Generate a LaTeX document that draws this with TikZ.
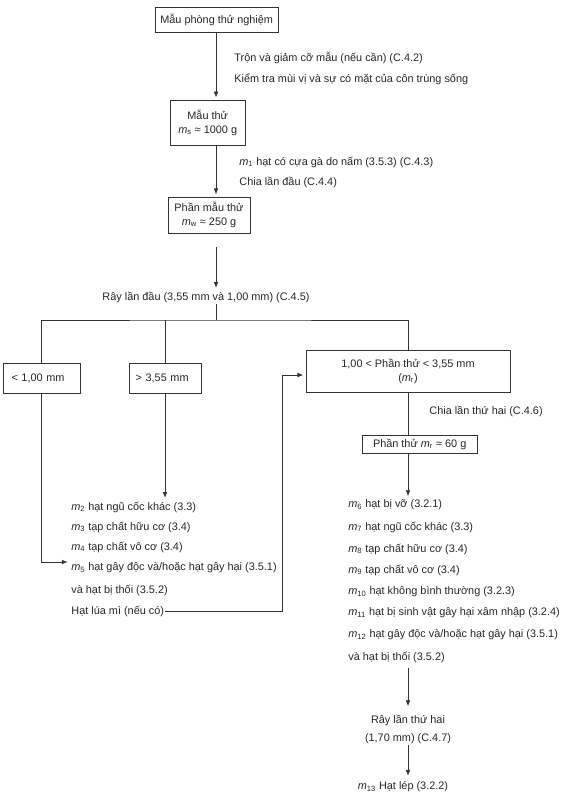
\documentclass[tikz,border=0pt]{standalone}
\usepackage{fontspec}
\setmainfont{Liberation Sans}
\usetikzlibrary{calc,arrows.meta}
\newcommand{\msub}[1]{\textit{m}\textsubscript{#1}}

\begin{document}
\begin{tikzpicture}[
  box/.style={draw=black!80, line width=0.6pt, align=center, inner sep=1pt, text=black!85, font=\fontsize{9.3}{12}\selectfont},
  txt/.style={anchor=west, inner sep=1pt, text=black!85, font=\fontsize{9.3}{11}\selectfont},
  arrow/.style={-{Latex[length=5pt,width=4pt]}, draw=black!80, line width=0.6pt, shorten >=2pt},
  line/.style={draw=black!80, line width=0.6pt}
]
\useasboundingbox (0,0) rectangle (17.1,-24.12);
\coordinate (axis) at (6.48,0);
\coordinate (raxis) at (12.24,0);

% top column
\node[box, minimum width=3.69cm, minimum height=0.75cm] (lab) at (6.50,-0.59) {Mẫu phòng thử nghiệm};
\node[txt] (mix) at (6.99,-1.74) {Trộn và giảm cỡ mẫu (nếu cần) (C.4.2)};
\node[txt] (odour) at (6.99,-2.37) {Kiểm tra mùi vị và sự có mặt của côn trùng sống};
\node[box, minimum width=2.25cm, minimum height=1.35cm] (sample) at (6.23,-3.68) {Mẫu thử\\\msub{s} ≈ 1000 g};
\node[txt] (ergot) at (7.14,-4.86) {\msub{1} hạt có cựa gà do nấm (3.5.3) (C.4.3)};
\node[txt] (div1) at (7.14,-5.46) {Chia lần đầu (C.4.4)};
\node[box, minimum width=2.46cm, minimum height=1.08cm] (portion) at (6.27,-6.45) {Phần mẫu thử\\\msub{w} ≈ 250 g};
\coordinate (gap) at (6.48,-7.41);
\node[txt, anchor=center] (sieve) at (6.18,-8.91) {Rây lần đầu (3,55 mm và 1,00 mm) (C.4.5)};
\coordinate (split) at (6.48,-9.60);

% fractions
\node[box, minimum width=2.31cm, minimum height=0.9cm, inner xsep=0.25cm, text width=1.81cm, align=left] (fine) at (1.25,-11.34) {< 1,00 mm};
\node[box, minimum width=2.16cm, minimum height=0.9cm, inner xsep=0.2cm, text width=1.76cm, align=left] (coarse) at (4.95,-11.34) {> 3,55 mm};
\node[box, minimum width=6.12cm, minimum height=1.26cm] (mid) at (12.24,-11.13) {1,00 < Phần thử < 3,55 mm\\(\msub{r})};
\node[txt] (div2) at (12.84,-12.33) {Chia lần thứ hai (C.4.6)};
\node[box, minimum width=3.45cm, minimum height=0.54cm] (part) at (12.59,-13.32) {Phần thử \msub{r} ≈ 60 g};

% left list
\node[txt] (l2) at (2.10,-15.21) {\msub{2} hạt ngũ cốc khác (3.3)};
\node[txt] (l3) at (2.10,-15.81) {\msub{3} tạp chất hữu cơ (3.4)};
\node[txt] (l4) at (2.10,-16.41) {\msub{4} tạp chất vô cơ (3.4)};
\node[txt] (l5) at (2.10,-17.04) {\msub{5} hạt gây độc và/hoặc hạt gây hại (3.5.1)};
\node[txt] (l5b) at (2.10,-17.70) {và hạt bị thối (3.5.2)};
\node[txt] (lmi) at (2.10,-18.33) {Hạt lúa mì (nếu có)};

% right list
\node[txt] (r6) at (10.41,-15.15) {\msub{6} hạt bị vỡ (3.2.1)};
\node[txt] (r7) at (10.41,-15.81) {\msub{7} hạt ngũ cốc khác (3.3)};
\node[txt] (r8) at (10.41,-16.47) {\msub{8} tạp chất hữu cơ (3.4)};
\node[txt] (r9) at (10.41,-17.10) {\msub{9} tạp chất vô cơ (3.4)};
\node[txt] (r10) at (10.41,-17.76) {\msub{10} hạt không bình thường (3.2.3)};
\node[txt] (r11) at (10.41,-18.39) {\msub{11} hạt bị sinh vật gây hại xâm nhập (3.2.4)};
\node[txt] (r12) at (10.41,-19.05) {\msub{12} hạt gây độc và/hoặc hạt gây hại (3.5.1)};
\node[txt] (r12b) at (10.41,-19.71) {và hạt bị thối (3.5.2)};
\node[txt, anchor=center, align=center, font=\fontsize{9.3}{15.4}\selectfont] (sieve2) at (12.24,-21.87) {Rây lần thứ hai\\(1,70 mm) (C.4.7)};
\node[txt, anchor=center] (shriv) at (12.09,-23.61) {\msub{13} Hạt lép (3.2.2)};

\draw[arrow] (lab.south -| axis) -- (sample.north -| axis);
\draw[arrow] (sample.south -| axis) -- (portion.north -| axis);
\draw[arrow] (gap) -- (sieve.north -| axis);
\draw[line] (sieve.south -| axis) -- (split);
\draw[line] (fine.north) |- (split) -| (mid.north);
\draw[line] (coarse.north) -- (coarse.north |- split);
\draw[arrow] (fine.south) |- ([yshift=0.18cm]l5.west);
\draw[arrow] (coarse.south) -- (coarse.south |- l2.north);
\draw[arrow] (lmi.east) -| ([xshift=-0.69cm,yshift=-0.12cm]mid.west) -- ([yshift=-0.12cm]mid.west);
\draw[line] (mid.south -| raxis) -- (part.north -| raxis);
\draw[arrow] (part.south -| raxis) -- (r6.north -| raxis);
\draw[arrow, shorten <=4pt, shorten >=6pt] (r12b.south -| raxis) -- (sieve2.north -| raxis);
\draw[arrow, shorten >=4pt] (sieve2.south -| raxis) -- (shriv.north -| raxis);
\end{tikzpicture}
\end{document}
